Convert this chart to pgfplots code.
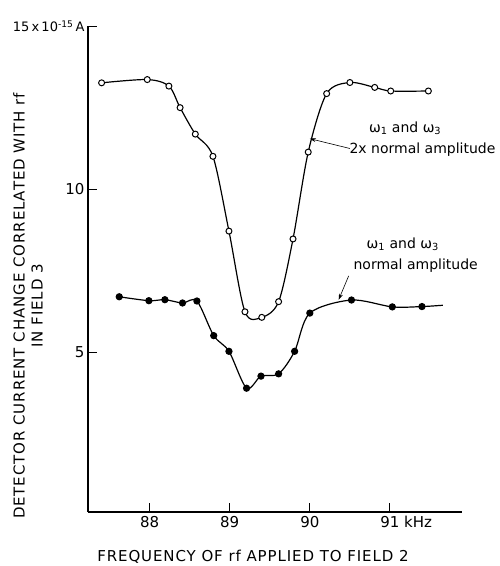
\documentclass[border=0pt]{standalone}
\usepackage{pgfplots}
\pgfplotsset{compat=1.18}
\usepackage{fontspec}
\setmainfont{DejaVu Sans}
\newfontfamily\spaced{DejaVu Sans}[LetterSpace=6]
\usetikzlibrary{arrows.meta}
\newcommand\lab{\fontsize{15}{18}\selectfont}
\newcommand\slab{\spaced\fontsize{15}{18}\selectfont}
\newcommand\alab{\fontsize{14}{17}\selectfont}

\begin{document}
\begin{tikzpicture}
\useasboundingbox (-88pt,-54pt) rectangle (411pt,512pt);
\begin{axis}[
    scale only axis,
    width=374pt, height=486pt,
    xmin=87.23, xmax=91.9,
    ymin=0.12, ymax=15,
    axis lines=left,
    axis line style={-, line width=1.1pt},
    tick align=inside,
    major tick length=9pt,
    tick style={black, line width=1pt},
    xtick={88,89,90,91},
    xticklabels={88,89,90,{91\rlap{ kHz}}},
    ytick={5,10,15},
    yticklabels={5,10,{\fontsize{13}{15}\selectfont 15\,x\,10\textsuperscript{-15}\,A}},
    /pgf/number format/assume math mode=true,
    tick label style={font=\lab},
    xticklabel style={yshift=-1pt},
    xlabel={FREQUENCY OF rf APPLIED TO FIELD 2},
    xlabel style={font=\slab, at={(rel axis cs:0.441,0)}, anchor=center, yshift=-45pt},
    ylabel={DETECTOR CURRENT CHANGE CORRELATED WITH rf\\IN FIELD 3},
    ylabel style={font=\slab, align=center, at={(rel axis cs:0,0.424)}, anchor=center, yshift=60pt},
    clip=false,
]

% 2x normal amplitude (open circles)
\addplot[black, line width=1.2pt, smooth, mark=*, mark size=3pt,
    mark options={fill=white, line width=1pt}] coordinates {
    (87.40,13.26) (87.97,13.36) (88.24,13.16) (88.38,12.50) (88.57,11.69)
    (88.79,11.01) (88.99,8.72) (89.19,6.25) (89.40,6.08) (89.61,6.56)
    (89.79,8.48) (89.98,11.14) (90.21,12.93) (90.50,13.27) (90.81,13.12)
    (91.01,13.01) (91.48,13.01)
};

% normal amplitude (filled circles)
\addplot[black, line width=1.2pt, smooth, mark=*, mark size=3pt,
    mark indices={1,...,15}, mark options={fill=black}] coordinates {
    (87.62,6.71) (87.99,6.59) (88.19,6.62) (88.41,6.52) (88.59,6.58)
    (88.80,5.52) (88.99,5.04) (89.21,3.91) (89.39,4.28) (89.61,4.35)
    (89.81,5.04) (90.00,6.21) (90.52,6.61) (91.03,6.40) (91.40,6.41)
    (91.66,6.45)
};

% annotations
\node[font=\alab] at (axis cs:91.19,11.86) {ω\textsubscript{1} and ω\textsubscript{3}};
\node[font=\alab, anchor=east, inner sep=0pt] at (axis cs:92.32,11.22) {2x normal amplitude};
\draw[-{Stealth[length=6pt,width=4pt]}, line width=0.6pt] (axis cs:90.50,11.25) -- (axis cs:90.00,11.55);

\node[font=\alab] at (axis cs:91.16,8.32) {ω\textsubscript{1} and ω\textsubscript{3}};
\node[font=\alab, anchor=east, inner sep=0pt] at (axis cs:92.10,7.65) {normal amplitude};
\draw[-{Stealth[length=6pt,width=4pt]}, line width=0.6pt] (axis cs:90.485,7.35) -- (axis cs:90.36,6.62);

\end{axis}
\end{tikzpicture}
\end{document}
